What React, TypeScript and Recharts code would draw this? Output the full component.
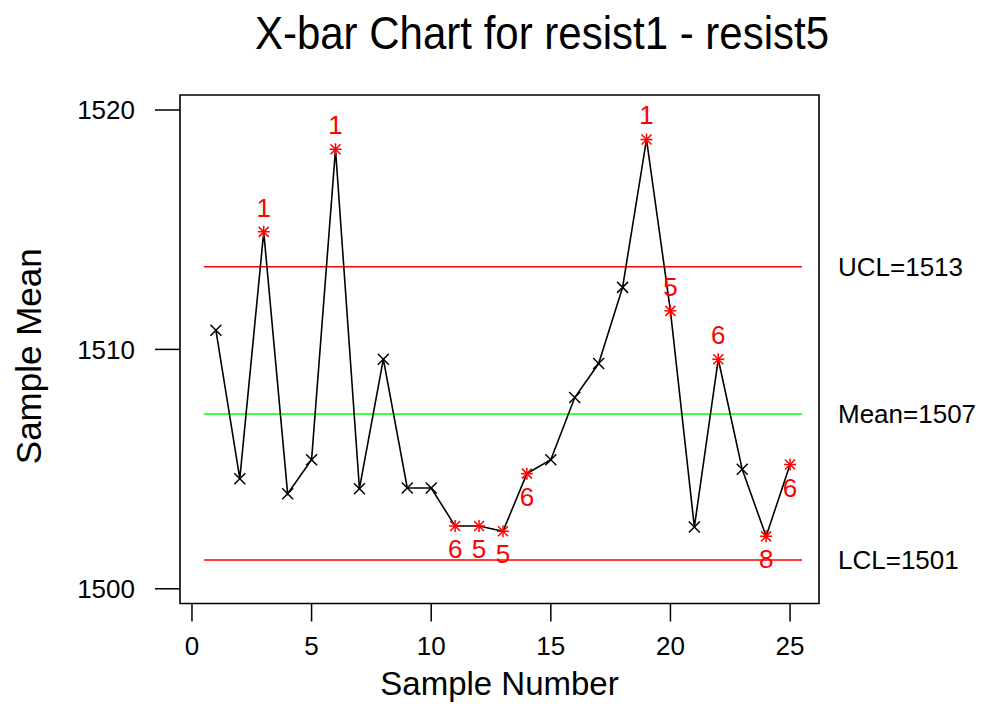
import React from 'react';
import { ComposedChart, Line, XAxis, YAxis, ReferenceLine, ReferenceArea, LabelList } from 'recharts';

// subgroup means for resist1..resist5, one per sample
const samples = [1, 2, 3, 4, 5, 6, 7, 8, 9, 10, 11, 12, 13, 14, 15, 16, 17, 18, 19, 20, 21, 22, 23, 24, 25];
const sampleMeans = [
  1510.8, 1504.6, 1514.91, 1503.97, 1505.39, 1518.36, 1504.18, 1509.59, 1504.21, 1504.21,
  1502.62, 1502.62, 1502.4, 1504.81, 1505.39, 1507.99, 1509.41, 1512.59, 1518.77, 1511.61,
  1502.58, 1509.59, 1504.99, 1502.19, 1505.19,
];
// number of the special-cause test each sample failed ('' = none)
const failedTests = ['', '', '1', '', '', '1', '', '', '', '', '6', '5', '5', '6', '', '', '', '', '1', '5', '', '6', '', '8', '6'];

const centerLine = 1507.3;
const upperLimit = 1513.45;
const lowerLimit = 1501.2;
const limitLabels = ['UCL=1513', 'Mean=1507', 'LCL=1501'];

const xTicks = [0, 5, 10, 15, 20, 25];
const yTicks = [1500, 1510, 1520];
const xDomain: [number, number] = [-0.5, 26.21];
const yDomain: [number, number] = [1499.385, 1520.627];

const data = samples.map((s, i) => ({ sample: s, mean: sampleMeans[i], flag: failedTests[i] }));

const limitStart = samples[0] - 0.5;
const limitEnd = samples[samples.length - 1] + 0.5;

const FONT = '"Liberation Sans", Arial, Helvetica, sans-serif';
const RED = '#ff0000';

const SampleDot = (props: any) => {
  const { cx, cy, payload, index } = props;
  const h = 5;
  if (payload.flag) {
    return (
      <g key={`dot-${index}`} stroke={RED} strokeWidth={1.5}>
        <line x1={cx - h} y1={cy - h} x2={cx + h} y2={cy + h} />
        <line x1={cx - h} y1={cy + h} x2={cx + h} y2={cy - h} />
        <line x1={cx - 6} y1={cy} x2={cx + 6} y2={cy} />
        <line x1={cx} y1={cy - 6} x2={cx} y2={cy + 6} />
      </g>
    );
  }
  return (
    <g key={`dot-${index}`} stroke="#000" strokeWidth={1.5}>
      <line x1={cx - 5.5} y1={cy - 5.5} x2={cx + 5.5} y2={cy + 5.5} />
      <line x1={cx - 5.5} y1={cy + 5.5} x2={cx + 5.5} y2={cy - 5.5} />
    </g>
  );
};

// test number sits above points over the centre line, below the others
const FlagLabel = (props: any) => {
  const { x, y, value, index } = props;
  if (!value) return null;
  const above = sampleMeans[index] > centerLine;
  return (
    <text x={x} y={above ? y - 15 : y + 32} textAnchor="middle" fill={RED} fontSize={26} fontFamily={FONT}>
      {value}
    </text>
  );
};

// vertical axis title, rotated and nudged a little below the plot's middle
const MeanAxisTitle = (props: any) => {
  const { viewBox } = props;
  const cx = viewBox.x + 33;
  const cy = viewBox.y + viewBox.height / 2 + 7;
  return (
    <text transform={`translate(${cx}, ${cy}) rotate(-90)`} textAnchor="middle" fill="#000" fontSize={35} fontFamily={FONT}>
      Sample Mean
    </text>
  );
};

const limitLabel = (value: string) => ({
  value,
  position: 'right' as const,
  offset: 36,
  fill: '#000',
  fontSize: 26,
  fontFamily: FONT,
});

export default function App() {
  return (
    <div style={{ position: 'relative', width: 976, height: 696, background: '#fff', fontFamily: FONT }}>
      <div
        style={{
          position: 'absolute',
          left: 234,
          top: 6,
          width: 600,
          textAlign: 'center',
          fontSize: 42,
          lineHeight: 1,
          color: '#000',
          transform: 'scaleY(1.12)',
          transformOrigin: '50% 85%',
        }}
      >
        X-bar Chart for resist1 - resist5
      </div>
      <ComposedChart width={976} height={696} data={data} margin={{ top: 87, right: 165, bottom: 0, left: 0 }}>
        <XAxis
          dataKey="sample"
          type="number"
          domain={xDomain}
          ticks={xTicks}
          allowDataOverflow
          height={100.5}
          axisLine={false}
          tickSize={18}
          tickMargin={15}
          tickLine={{ stroke: '#000', strokeWidth: 1.5 }}
          tick={{ fill: '#000', fontSize: 26 }}
          label={{ value: 'Sample Number', position: 'insideTop', offset: 68, fill: '#000', fontSize: 33 }}
        />
        <YAxis
          type="number"
          domain={yDomain}
          ticks={yTicks}
          allowDataOverflow
          width={172}
          axisLine={false}
          tickSize={25}
          tickMargin={20}
          tickLine={{ stroke: '#000', strokeWidth: 1.5 }}
          tick={{ fill: '#000', fontSize: 26 }}
          label={{ content: MeanAxisTitle }}
        />
        <ReferenceArea
          x1={xDomain[0]}
          x2={xDomain[1]}
          y1={yDomain[0]}
          y2={yDomain[1]}
          fill="none"
          stroke="#000"
          strokeWidth={1.6}
          fillOpacity={0}
        />
        <ReferenceLine
          segment={[{ x: limitStart, y: upperLimit }, { x: limitEnd, y: upperLimit }]}
          stroke={RED}
          strokeWidth={1.5}
          label={limitLabel(limitLabels[0])}
        />
        <ReferenceLine
          segment={[{ x: limitStart, y: centerLine }, { x: limitEnd, y: centerLine }]}
          stroke="#00ff00"
          strokeWidth={1.5}
          label={limitLabel(limitLabels[1])}
        />
        <ReferenceLine
          segment={[{ x: limitStart, y: lowerLimit }, { x: limitEnd, y: lowerLimit }]}
          stroke={RED}
          strokeWidth={1.5}
          label={limitLabel(limitLabels[2])}
        />
        <Line
          dataKey="mean"
          stroke="#000"
          strokeWidth={1.6}
          dot={SampleDot}
          activeDot={false}
          isAnimationActive={false}
        >
          <LabelList dataKey="flag" content={FlagLabel} />
        </Line>
      </ComposedChart>
    </div>
  );
}
